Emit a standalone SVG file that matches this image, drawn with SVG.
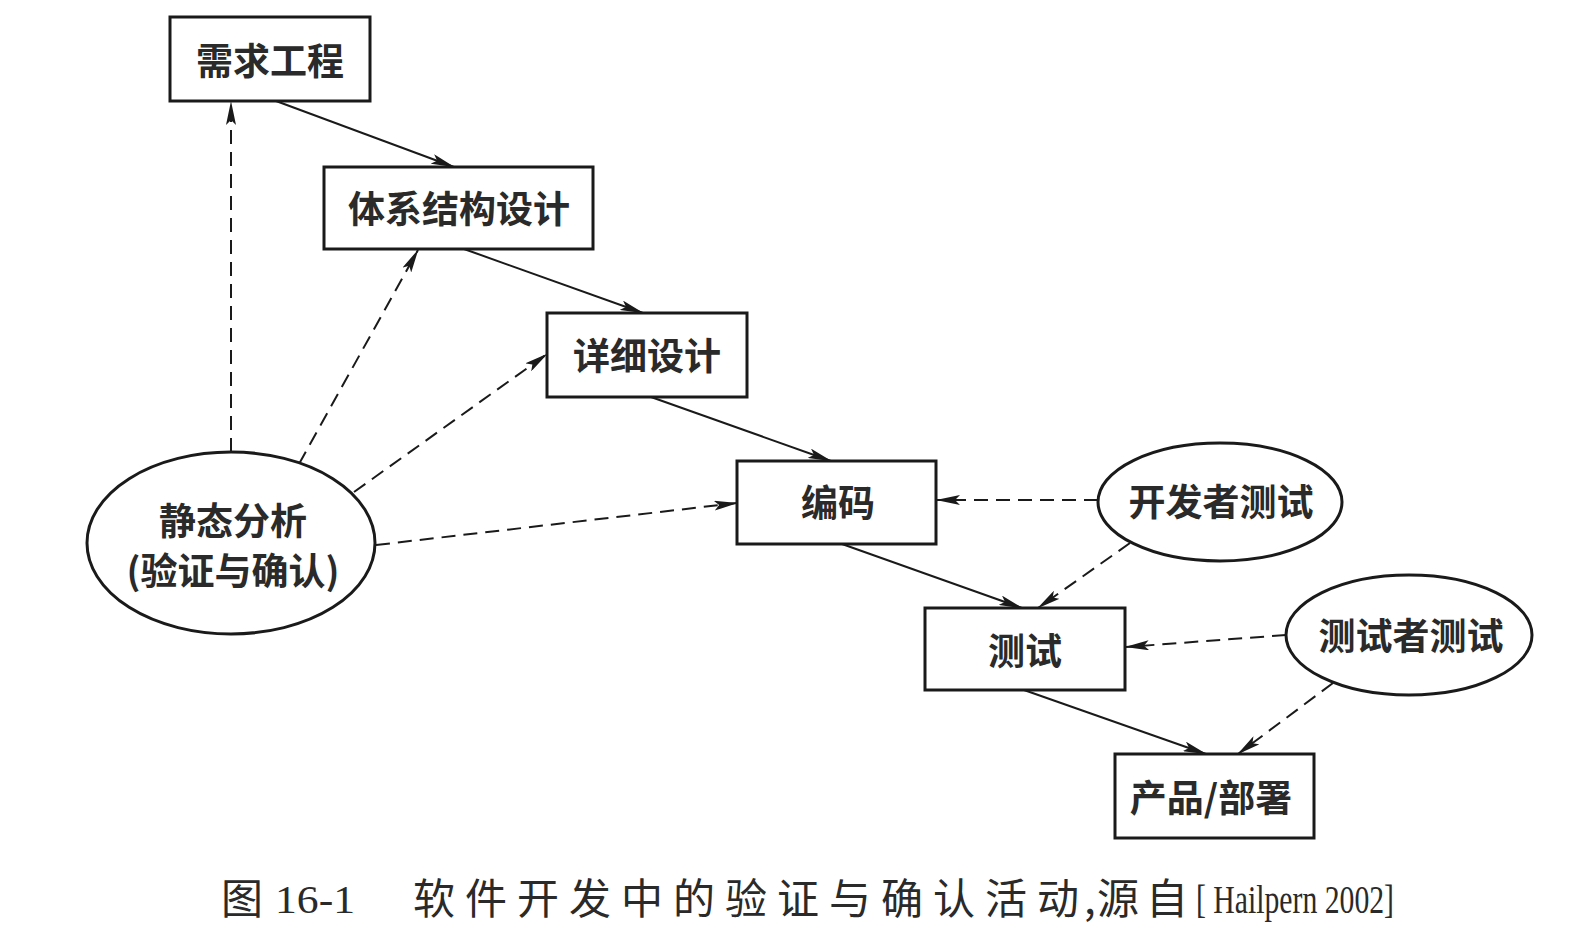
<svg xmlns="http://www.w3.org/2000/svg" width="1575" height="935" viewBox="0 0 1575 935">
<style>
.box{fill:#fff;stroke:#1a1a1a;stroke-width:3}
.ell{fill:#fff;stroke:#1a1a1a;stroke-width:3}
.lbl{font-family:"Noto Sans CJK SC","Liberation Sans",sans-serif;font-size:37px;font-weight:bold;fill:#2a2a2a;text-anchor:middle;dominant-baseline:central}
.solid{stroke:#1a1a1a;stroke-width:2;fill:none;marker-end:url(#arr)}
.dash{stroke:#1a1a1a;stroke-width:2;fill:none;stroke-dasharray:14 8;marker-end:url(#arr)}
.cap{font-family:"Liberation Serif","Noto Sans CJK SC",serif;font-size:39px;fill:#2a2a2a}
.capc{font-family:"Noto Sans CJK SC",sans-serif;font-size:42px;fill:#2a2a2a}
</style>
<defs>
<marker id="arr" viewBox="0 0 24 10" refX="23" refY="5" markerWidth="24" markerHeight="10" markerUnits="userSpaceOnUse" orient="auto">
<path d="M0,0 L24,5 L0,10 L5,5 Z" fill="#1a1a1a"/>
</marker>
</defs>
<rect width="1575" height="935" fill="#fff"/>
<g id="connectors">
<line class="solid" x1="276" y1="101" x2="454" y2="167"/>
<line class="solid" x1="464" y1="249" x2="643" y2="313"/>
<line class="solid" x1="651" y1="397" x2="831" y2="461"/>
<line class="solid" x1="842" y1="544" x2="1022" y2="608"/>
<line class="solid" x1="1024" y1="690" x2="1206" y2="754"/>
<line class="dash" x1="231" y1="452" x2="231" y2="102"/>
<line class="dash" x1="299" y1="464" x2="418" y2="250"/>
<line class="dash" x1="354" y1="492" x2="547" y2="354"/>
<line class="dash" x1="376" y1="545" x2="737" y2="503"/>
<line class="dash" x1="1098" y1="500" x2="937" y2="500"/>
<line class="dash" x1="1130" y1="543" x2="1038" y2="608"/>
<line class="dash" x1="1286" y1="635" x2="1126" y2="647"/>
<line class="dash" x1="1333" y1="683" x2="1238" y2="754"/>
</g>
<g id="n-req"><rect class="box" x="170" y="17" width="200" height="84"/><text class="lbl" x="270" y="59">需求工程</text></g>
<g id="n-arch"><rect class="box" x="324" y="167" width="269" height="82"/><text class="lbl" x="459" y="207">体系结构设计</text></g>
<g id="n-detail"><rect class="box" x="547" y="313" width="200" height="84"/><text class="lbl" x="647" y="354">详细设计</text></g>
<g id="n-code"><rect class="box" x="737" y="461" width="199" height="83"/><text class="lbl" x="838" y="501">编码</text></g>
<g id="n-test"><rect class="box" x="925" y="608" width="200" height="82"/><text class="lbl" x="1025" y="649">测试</text></g>
<g id="n-prod"><rect class="box" x="1115" y="754" width="199" height="84"/><text class="lbl" x="1211" y="796">产品/部署</text></g>
<g id="n-static"><ellipse class="ell" cx="231" cy="543" rx="144" ry="91"/><text class="lbl" x="233" y="519">静态分析</text><text class="lbl" x="233" y="569">(验证与确认)</text></g>
<g id="n-devtest"><ellipse class="ell" cx="1220" cy="502" rx="122" ry="59"/><text class="lbl" x="1221" y="500">开发者测试</text></g>
<g id="n-testertest"><ellipse class="ell" cx="1409" cy="635" rx="123" ry="60"/><text class="lbl" x="1411" y="634">测试者测试</text></g>
<g id="caption">
<text class="capc" x="221" y="914">图</text>
<text class="cap" x="275" y="913" textLength="80" lengthAdjust="spacingAndGlyphs">16-1</text>
<text class="capc" x="413 465 517 569 621 673 725 777 829 881 933 985 1037 1084 1097 1146" y="914">软件开发中的验证与确认活动,源自</text>
<text class="cap" x="1196" y="913" textLength="198" lengthAdjust="spacingAndGlyphs">[ Hailpern 2002]</text>
</g>
</svg>
